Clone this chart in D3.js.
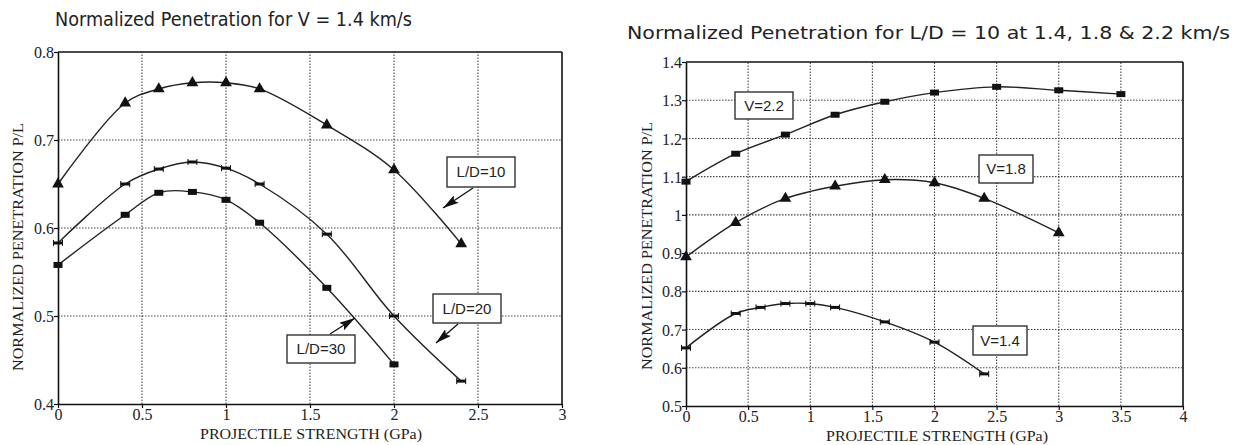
<!DOCTYPE html>
<html>
<head>
<meta charset="utf-8">
<script src="https://cdn.jsdelivr.net/npm/d3@7"></script>
<style>
  body { margin: 0; background: #fff; }
  text { fill: #222; }
</style>
</head>
<body>
<script>
// ---- data ----
const strengthA = [0, 0.4, 0.6, 0.8, 1.0, 1.2, 1.6, 2.0, 2.4];
const ld10 = [0.650, 0.742, 0.758, 0.765, 0.765, 0.758, 0.717, 0.666, 0.582];
const ld20 = [0.583, 0.650, 0.667, 0.675, 0.668, 0.650, 0.593, 0.500, 0.426];
const strengthB = [0, 0.4, 0.6, 0.8, 1.0, 1.2, 1.6, 2.0];
const ld30 = [0.558, 0.615, 0.640, 0.641, 0.632, 0.606, 0.532, 0.445];

const strengthV22 = [0, 0.4, 0.8, 1.2, 1.6, 2.0, 2.5, 3.0, 3.5];
const v22 = [1.087, 1.160, 1.210, 1.262, 1.296, 1.320, 1.335, 1.326, 1.316];
const strengthV18 = [0, 0.4, 0.8, 1.2, 1.6, 2.0, 2.4, 3.0];
const v18 = [0.890, 0.980, 1.043, 1.075, 1.092, 1.084, 1.043, 0.953];
const strengthV14 = [0, 0.4, 0.6, 0.8, 1.0, 1.2, 1.6, 2.0, 2.4];
const v14 = [0.652, 0.742, 0.758, 0.768, 0.768, 0.758, 0.720, 0.667, 0.584];

const xTicksL = [0, 0.5, 1, 1.5, 2, 2.5, 3];
const yTicksL = [0.4, 0.5, 0.6, 0.7, 0.8];
const xTicksR = [0, 0.5, 1, 1.5, 2, 2.5, 3, 3.5, 4];
const yTicksR = [0.5, 0.6, 0.7, 0.8, 0.9, 1, 1.1, 1.2, 1.3, 1.4];

const w = 1245, h = 445;
const serif = "'Liberation Serif', 'Times New Roman', serif";
const sans = "'Liberation Sans', Arial, sans-serif";
const titleFont = "'DejaVu Sans', sans-serif";

const svg = d3.select("body").append("svg").attr("width", w).attr("height", h);

const defs = svg.append("defs");
defs.append("marker").attr("id", "arrow")
  .attr("viewBox", "0 0 16 9").attr("refX", 16).attr("refY", 4.5)
  .attr("markerWidth", 16).attr("markerHeight", 9)
  .attr("markerUnits", "userSpaceOnUse").attr("orient", "auto")
  .append("path").attr("d", "M0,0 L16,4.5 L0,9 L3,4.5 Z").attr("fill", "#111");

const zip = (xs, ys) => xs.map((x, i) => [x, ys[i]]);

const drawPanel = function(opt) {
  const x = d3.scaleLinear().domain(opt.xDomain).range(opt.xRange);
  const y = d3.scaleLinear().domain(opt.yDomain).range(opt.yRange);
  const g = svg.append("g");

  // dotted grid
  g.append("g").selectAll("line").data(opt.xTicks.slice(1, -1)).enter().append("line")
    .attr("x1", d => x(d)).attr("x2", d => x(d))
    .attr("y1", opt.yRange[0]).attr("y2", opt.yRange[1])
    .attr("stroke", "#444").attr("stroke-width", 1.1).attr("stroke-dasharray", "1.5,1.5");
  g.append("g").selectAll("line").data(opt.yTicks.slice(1, -1)).enter().append("line")
    .attr("y1", d => y(d)).attr("y2", d => y(d))
    .attr("x1", opt.xRange[0]).attr("x2", opt.xRange[1])
    .attr("stroke", "#444").attr("stroke-width", 1.1).attr("stroke-dasharray", "1.5,1.5");

  // axes
  const xa = g.append("g").attr("transform", "translate(0," + opt.yRange[0] + ")")
    .call(d3.axisBottom(x).tickValues(opt.xTicks).tickSize(4).tickSizeOuter(0).tickFormat(d3.format("")));
  const ya = g.append("g").attr("transform", "translate(" + opt.xRange[0] + ",0)")
    .call(d3.axisLeft(y).tickValues(opt.yTicks).tickSize(4).tickSizeOuter(0).tickFormat(d3.format("")));
  [xa, ya].forEach(a => {
    a.select(".domain").attr("stroke", "#111").attr("stroke-width", 1.6);
    a.selectAll(".tick line").attr("stroke", "#111").attr("stroke-width", 1.2);
    a.selectAll("text").attr("font-family", serif).attr("font-size", "16px").attr("fill", "#222");
  });
  xa.selectAll("text").attr("dy", "0.9em").attr("y", 2);
  ya.selectAll("text").attr("x", -4).attr("dy", "0.35em");

  // frame top and right
  g.append("line").attr("x1", opt.xRange[0]).attr("x2", opt.xRange[1])
    .attr("y1", opt.yRange[1]).attr("y2", opt.yRange[1]).attr("stroke", "#111").attr("stroke-width", 1.6);
  g.append("line").attr("x1", opt.xRange[1]).attr("x2", opt.xRange[1])
    .attr("y1", opt.yRange[1]).attr("y2", opt.yRange[0]).attr("stroke", "#111").attr("stroke-width", 1.6);

  // titles
  g.append("text").attr("x", opt.titleX).attr("y", opt.titleY)
    .attr("font-family", titleFont).attr("font-size", opt.titleSize + "px")
    .attr("textLength", opt.titleLen).attr("lengthAdjust", "spacingAndGlyphs")
    .text(opt.title);
  g.append("text").attr("transform", "translate(" + opt.yLabelX + "," + opt.yLabelY + ") rotate(-90)")
    .attr("text-anchor", "middle").attr("font-family", serif).attr("font-size", "14px")
    .attr("textLength", 248).attr("lengthAdjust", "spacingAndGlyphs")
    .text("NORMALIZED PENETRATION  P/L");
  g.append("text").attr("x", opt.xLabelX).attr("y", opt.xLabelY)
    .attr("text-anchor", "middle").attr("font-family", serif).attr("font-size", "14px")
    .attr("textLength", 222).attr("lengthAdjust", "spacingAndGlyphs")
    .text("PROJECTILE STRENGTH (GPa)");

  // curves and markers
  const line = d3.line().x(d => x(d[0])).y(d => y(d[1])).curve(d3.curveCatmullRom.alpha(0.5));
  opt.series.forEach(s => {
    const pts = zip(s.xs, s.ys);
    g.append("path").datum(pts).attr("d", line)
      .attr("fill", "none").attr("stroke", "#222").attr("stroke-width", 1.4);
    const m = g.append("g").selectAll("g").data(pts).enter().append("g")
      .attr("transform", d => "translate(" + x(d[0]) + "," + y(d[1]) + ")");
    if (s.marker === "tri") {
      m.append("path").attr("d", d3.symbol(d3.symbolTriangle).size(60)).attr("fill", "#111");
    } else if (s.marker === "sq") {
      m.append("rect").attr("x", -4.5).attr("y", -3).attr("width", 9).attr("height", 6).attr("fill", "#111");
    } else {
      m.append("rect").attr("x", -4.5).attr("y", -1.5).attr("width", 9).attr("height", 3).attr("fill", "#111");
      m.append("line").attr("x1", -4.5).attr("x2", -4.5).attr("y1", -3).attr("y2", 3).attr("stroke", "#111");
      m.append("line").attr("x1", 4.5).attr("x2", 4.5).attr("y1", -3).attr("y2", 3).attr("stroke", "#111");
    }
  });

  // label boxes with arrows
  opt.labels.forEach(l => {
    if (l.arrow) {
      g.append("line").attr("x1", l.arrow[0]).attr("y1", l.arrow[1])
        .attr("x2", l.arrow[2]).attr("y2", l.arrow[3])
        .attr("stroke", "#111").attr("stroke-width", 1.3).attr("marker-end", "url(#arrow)");
    }
    g.append("rect").attr("x", l.box[0]).attr("y", l.box[1])
      .attr("width", l.box[2]).attr("height", l.box[3])
      .attr("fill", "#fff").attr("stroke", "#222").attr("stroke-width", 1.3);
    g.append("text").attr("x", l.box[0] + l.box[2] / 2).attr("y", l.box[1] + l.box[3] / 2)
      .attr("dy", "0.36em").attr("text-anchor", "middle")
      .attr("font-family", sans).attr("font-size", "15px").text(l.text);
  });
};

drawPanel({
  xDomain: [0, 3], xRange: [58, 562],
  yDomain: [0.4, 0.8], yRange: [404, 52],
  xTicks: xTicksL, yTicks: yTicksL,
  title: "Normalized Penetration for V = 1.4 km/s",
  titleX: 55, titleY: 26, titleSize: 20, titleLen: 357,
  yLabelX: 23, yLabelY: 247,
  xLabelX: 311, xLabelY: 439,
  series: [
    { xs: strengthA, ys: ld10, marker: "tri" },
    { xs: strengthA, ys: ld20, marker: "dash" },
    { xs: strengthB, ys: ld30, marker: "sq" }
  ],
  labels: [
    { text: "L/D=10", box: [447, 157, 68, 30], arrow: [473, 188, 443, 208] },
    { text: "L/D=20", box: [433, 294, 68, 29], arrow: [458, 324, 436, 343] },
    { text: "L/D=30", box: [287, 335, 68, 28], arrow: [330, 334, 355, 318] }
  ]
});

drawPanel({
  xDomain: [0, 4], xRange: [686, 1183],
  yDomain: [0.5, 1.4], yRange: [406, 62],
  xTicks: xTicksR, yTicks: yTicksR,
  title: "Normalized Penetration for L/D = 10 at 1.4, 1.8 & 2.2 km/s",
  titleX: 627, titleY: 39, titleSize: 17, titleLen: 603,
  yLabelX: 652, yLabelY: 246,
  xLabelX: 937, xLabelY: 441,
  series: [
    { xs: strengthV22, ys: v22, marker: "sq" },
    { xs: strengthV18, ys: v18, marker: "tri" },
    { xs: strengthV14, ys: v14, marker: "dash" }
  ],
  labels: [
    { text: "V=2.2", box: [735, 92, 58, 27] },
    { text: "V=1.8", box: [979, 155, 54, 28] },
    { text: "V=1.4", box: [973, 326, 54, 29] }
  ]
});
</script>
</body>
</html>
